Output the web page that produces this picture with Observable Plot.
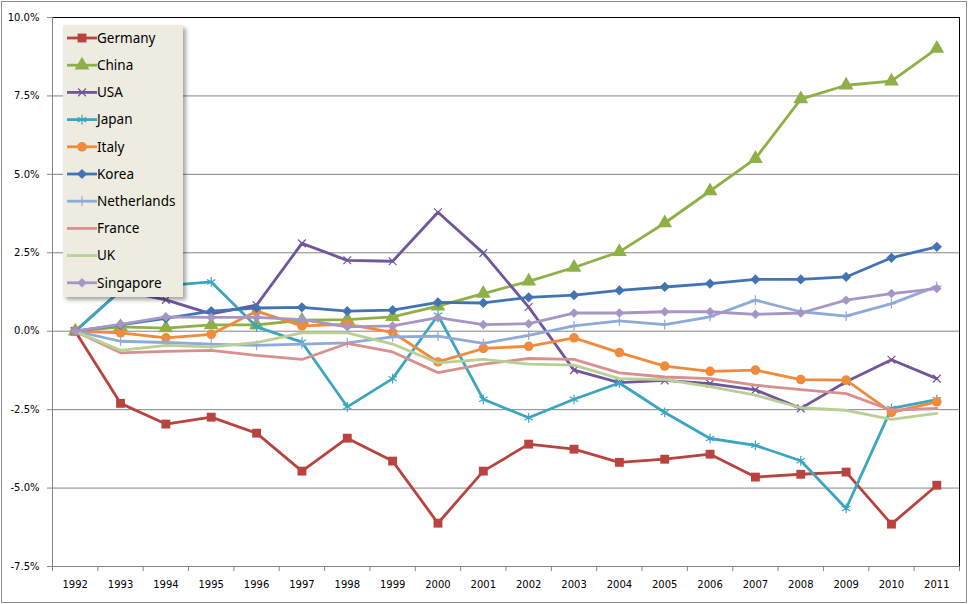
<!DOCTYPE html>
<html>
<head>
<meta charset="utf-8">
<script src="https://cdn.jsdelivr.net/npm/d3@7"></script>
<script src="https://cdn.jsdelivr.net/npm/@observablehq/plot@0.6"></script>
<style>
  body { margin: 0; background: #fff; }
  #wrap { position: relative; width: 968px; height: 604px; overflow: hidden; font-family: "DejaVu Sans", sans-serif; }
  #wrap > svg { position: absolute; left: 0; top: 0; }
  #border { position: absolute; left: 1px; top: 1px; width: 964px; height: 600px; border: 1px solid #8c8c8c; pointer-events: none; }
  #legend { position: absolute; left: 63px; top: 25px; width: 120px; height: 272px; background: #EEECE1; box-shadow: 3px 3px 4px rgba(0,0,0,0.35); }
  #legend svg { display: block; }
</style>
</head>
<body>
<div id="wrap"><div id="border"></div><div id="legend"></div></div>
<script>
// ---- data ----
const years = [1992,1993,1994,1995,1996,1997,1998,1999,2000,2001,2002,2003,2004,2005,2006,2007,2008,2009,2010,2011];
const countries = ["Germany","China","USA","Japan","Italy","Korea","Netherlands","France","UK","Singapore"];
const germany     = [0,-2.30,-2.96,-2.74,-3.25,-4.46,-3.41,-4.14,-6.12,-4.46,-3.60,-3.76,-4.18,-4.08,-3.92,-4.65,-4.56,-4.49,-6.15,-4.91];
const china       = [0,0.14,0.10,0.20,0.20,0.35,0.37,0.46,0.80,1.20,1.59,2.03,2.53,3.45,4.47,5.50,7.40,7.84,7.97,9.01];
const usa         = [0,1.30,1.00,0.55,0.83,2.80,2.26,2.23,3.79,2.49,0.77,-1.24,-1.64,-1.57,-1.67,-1.87,-2.46,-1.61,-0.91,-1.51];
const japan       = [0,1.29,1.45,1.57,0.14,-0.35,-2.41,-1.51,0.51,-2.17,-2.76,-2.17,-1.65,-2.59,-3.42,-3.64,-4.13,-5.65,-2.46,-2.18];
const italy       = [0,-0.05,-0.21,-0.10,0.64,0.17,0.22,-0.04,-0.98,-0.55,-0.48,-0.21,-0.68,-1.11,-1.28,-1.24,-1.54,-1.56,-2.59,-2.25];
const korea       = [0,0.20,0.41,0.64,0.74,0.76,0.64,0.67,0.92,0.90,1.08,1.15,1.30,1.41,1.52,1.65,1.65,1.73,2.34,2.69];
const netherlands = [0,-0.32,-0.36,-0.41,-0.45,-0.41,-0.37,-0.18,-0.16,-0.39,-0.13,0.17,0.33,0.21,0.46,0.99,0.62,0.48,0.88,1.43];
const france      = [0,-0.69,-0.64,-0.61,-0.77,-0.90,-0.39,-0.66,-1.32,-1.05,-0.87,-0.90,-1.33,-1.46,-1.51,-1.72,-1.86,-1.99,-2.52,-2.46];
const uk          = [0,-0.61,-0.45,-0.50,-0.36,-0.05,-0.05,-0.41,-1.01,-0.90,-1.05,-1.08,-1.51,-1.54,-1.77,-2.04,-2.44,-2.52,-2.81,-2.62];
const singapore   = [0,0.22,0.46,0.44,0.44,0.37,0.14,0.17,0.43,0.21,0.24,0.58,0.58,0.62,0.62,0.54,0.58,0.99,1.20,1.36];
const seriesValues = [germany, china, usa, japan, italy, korea, netherlands, france, uk, singapore];
const yTicks = [-7.5,-5,-2.5,0,2.5,5,7.5,10];

// ---- styles (kept separate from data) ----
const styles = {
  Germany:     {color:"#B9433F", symbol:"square",   r:5,   filled:true},
  China:       {color:"#8FAF47", symbol:"triangle", r:5.5, filled:true},
  USA:         {color:"#70569A", symbol:"times",    r:3.6, filled:false},
  Japan:       {color:"#3CA5C0", symbol:"asterisk", r:4.6, filled:false},
  Italy:       {color:"#F18A3A", symbol:"circle",   r:4.8, filled:true},
  Korea:       {color:"#4274B4", symbol:"diamond2", r:4.6, filled:true},
  Netherlands: {color:"#8FAAD8", symbol:"plus",     r:3.2, filled:false},
  France:      {color:"#D8908E", symbol:null},
  UK:          {color:"#B9CF95", symbol:null},
  Singapore:   {color:"#A596C6", symbol:"diamond2", r:4.3, filled:true}
};

const rows = [];
countries.forEach((c, i) => years.forEach((yr, j) => rows.push({country: c, year: yr, value: seriesValues[i][j]})));
const boundaries = [years[0] - 0.5, ...years.map(y => y + 0.5)];
const xDomain = [boundaries[0], boundaries[boundaries.length - 1]];
const yDomain = [yTicks[0], yTicks[yTicks.length - 1]];

const marks = [
  Plot.ruleY(yTicks, {stroke: "#868686", strokeWidth: 1}),
  Plot.frame({stroke: "#000"}),
  Plot.ruleX([xDomain[0]], {stroke: "#868686"}),
  Plot.ruleY([yDomain[0]], {stroke: "#868686"}),
  Plot.axisY({ticks: yTicks, tickSize: 5, tickPadding: 8, tickFormat: d => d.toFixed(1) + "%", stroke: "#868686", fill: "#000", fontSize: 10, label: null}),
  Plot.axisX({ticks: boundaries, tickSize: 5, tickFormat: () => "", stroke: "#868686", label: null}),
  Plot.axisX({ticks: years, tickSize: 0, tickPadding: 14, tickFormat: d => String(d), fill: "#000", fontSize: 10, label: null})
];

countries.forEach(c => {
  const s = styles[c];
  const data = rows.filter(d => d.country === c);
  marks.push(Plot.line(data, {x: "year", y: "value", stroke: s.color, strokeWidth: 2.8, strokeLinejoin: "round"}));
  if (s.symbol) {
    marks.push(Plot.dot(data, s.filled
      ? {x: "year", y: "value", symbol: s.symbol, r: s.r, fill: s.color, stroke: "none"}
      : {x: "year", y: "value", symbol: s.symbol, r: s.r, fill: "none", stroke: s.color, strokeWidth: 1.2}));
  }
});

const chart = Plot.plot({
  width: 968, height: 604,
  marginLeft: 52, marginRight: 9, marginTop: 17, marginBottom: 38,
  x: {type: "linear", domain: xDomain, axis: null},
  y: {type: "linear", domain: yDomain, axis: null},
  style: {fontFamily: "DejaVu Sans, sans-serif", fontSize: "10px", background: "transparent", color: "#000"},
  marks
});
const wrap = document.getElementById("wrap");
wrap.insertBefore(chart, wrap.firstChild);

// ---- legend ----
const symbolMap = {square: d3.symbolSquare, triangle: d3.symbolTriangle, times: d3.symbolTimes, asterisk: d3.symbolAsterisk,
  circle: d3.symbolCircle, diamond2: d3.symbolDiamond2, plus: d3.symbolPlus};
const lg = d3.select("#legend").append("svg").attr("width", 120).attr("height", 272);
countries.forEach((c, i) => {
  const s = styles[c];
  const cy = 13 + i * 27.2;
  const g = lg.append("g").attr("transform", `translate(0,${cy})`);
  g.append("line").attr("x1", 4).attr("x2", 34).attr("y1", 0).attr("y2", 0).attr("stroke", s.color).attr("stroke-width", 2.8);
  if (s.symbol) {
    const p = g.append("path").attr("transform", "translate(19,0)")
      .attr("d", d3.symbol(symbolMap[s.symbol], Math.PI * s.r * s.r)());
    if (s.filled) p.attr("fill", s.color); else p.attr("fill", "none").attr("stroke", s.color).attr("stroke-width", 1.2);
  }
  g.append("text").attr("x", 34).attr("y", 0).attr("dy", "0.35em")
    .attr("font-family", "'Noto Sans', sans-serif").attr("font-size", 13.5).attr("fill", "#000").text(c);
});
</script>
</body>
</html>
